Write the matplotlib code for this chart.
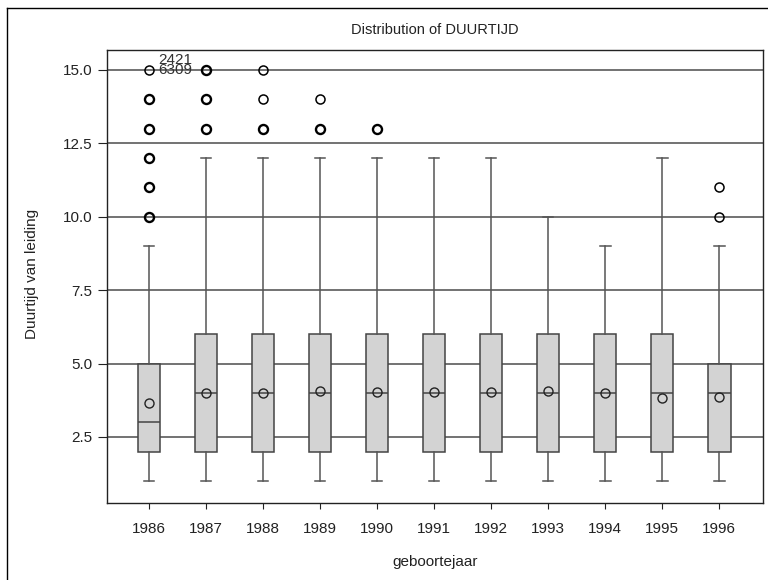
import numpy as np
import matplotlib.pyplot as plt
from matplotlib.lines import Line2D

plt.rcParams['font.family'] = ['Liberation Sans', 'DejaVu Sans']

years = ['1986', '1987', '1988', '1989', '1990', '1991', '1992', '1993', '1994', '1995', '1996']
q1 = [2, 2, 2, 2, 2, 2, 2, 2, 2, 2, 2]
median = [3, 4, 4, 4, 4, 4, 4, 4, 4, 4, 4]
q3 = [5, 6, 6, 6, 6, 6, 6, 6, 6, 6, 5]
whisker_low = [1, 1, 1, 1, 1, 1, 1, 1, 1, 1, 1]
whisker_high = [9, 12, 12, 12, 12, 12, 12, 10, 9, 12, 9]
means = [3.67, 4.0, 3.98, 4.07, 4.03, 4.03, 4.02, 4.07, 3.99, 3.81, 3.85]

# outliers per year: value -> number of observations at that value
outliers = {
    '1986': {10: 4, 11: 3, 12: 3, 13: 5, 14: 4, 15: 2},
    '1987': {13: 3, 14: 3, 15: 3},
    '1988': {13: 3, 14: 1, 15: 1},
    '1989': {13: 3, 14: 1},
    '1990': {13: 3},
    '1996': {10: 1, 11: 1},
}
outlier_ids = {'1986': (15, ['2421', '6309'])}

yticks = [2.5, 5.0, 7.5, 10.0, 12.5, 15.0]

fig = plt.figure(figsize=(7.68, 5.80), dpi=100)
ax = fig.add_axes([107 / 768, 1 - 503 / 580, 656 / 768, 453 / 580])

stats = []
for i, yr in enumerate(years):
    stats.append(dict(label=yr, q1=q1[i], med=median[i], q3=q3[i],
                      whislo=whisker_low[i], whishi=whisker_high[i],
                      mean=means[i], fliers=[]))

pos = np.arange(len(years))
edge = '#444444'
ax.bxp(stats, positions=pos, widths=0.40, capwidths=0.19, patch_artist=True,
       showmeans=True, showfliers=False,
       boxprops=dict(facecolor='#d3d3d3', edgecolor=edge, linewidth=1.1),
       medianprops=dict(color=edge, linewidth=1.1),
       whiskerprops=dict(color='#555555', linewidth=1.1),
       capprops=dict(color='#555555', linewidth=1.1),
       meanprops=dict(marker='o', markerfacecolor='none', markeredgecolor='#222222',
                      markersize=6.5, markeredgewidth=1.0),
       zorder=3)

for i, yr in enumerate(years):
    for val, cnt in outliers.get(yr, {}).items():
        lw = 1.7 if cnt >= 3 else 1.1
        ax.plot(pos[i], val, marker='o', markerfacecolor='none', markeredgecolor='black',
                markersize=6.5, markeredgewidth=lw, linestyle='none', zorder=4)

for yr, (val, ids) in outlier_ids.items():
    i = years.index(yr)
    for k, lab in enumerate(ids):
        ax.annotate(lab, (pos[i], val), xytext=(6.5, 7 - 7 * k), textcoords='offset points',
                    ha='left', va='center', fontsize=11, color='#333333', zorder=5)

for y in yticks:
    ax.axhline(y, color='#5a5a5a', linewidth=1.2, zorder=1)

ax.set_xlim(-0.737, 10.77)
ax.set_ylim(0.25, 15.68)
ax.set_xticks(pos)
ax.set_xticklabels(years)
ax.set_yticks(yticks)
ax.set_yticklabels([f'{v:.1f}' for v in yticks])
ax.tick_params(axis='x', length=4.5, pad=9, labelsize=11, colors='#222222')
ax.tick_params(axis='y', length=6.5, pad=4, labelsize=11, colors='#222222')
for sp in ax.spines.values():
    sp.set_color('#222222')
    sp.set_linewidth(1.0)

fig.text(435 / 768, 1 - 30 / 580, 'Distribution of DUURTIJD', ha='center', va='center',
         fontsize=10.5, color='#222222')
fig.text(435 / 768, 1 - 562 / 580, 'geboortejaar', ha='center', va='center',
         fontsize=11, color='#222222')
fig.text(32 / 768, 1 - 274 / 580, 'Duurtijd van leiding', ha='center', va='center',
         rotation=90, fontsize=11, color='#222222')

# outer frame
fig.add_artist(Line2D([7 / 768, 7 / 768], [0, 1 - 8 / 580], color='black', linewidth=1.0))
fig.add_artist(Line2D([7 / 768, 1], [1 - 8 / 580, 1 - 8 / 580], color='black', linewidth=1.0))

fig.savefig('out.png', dpi=100)
